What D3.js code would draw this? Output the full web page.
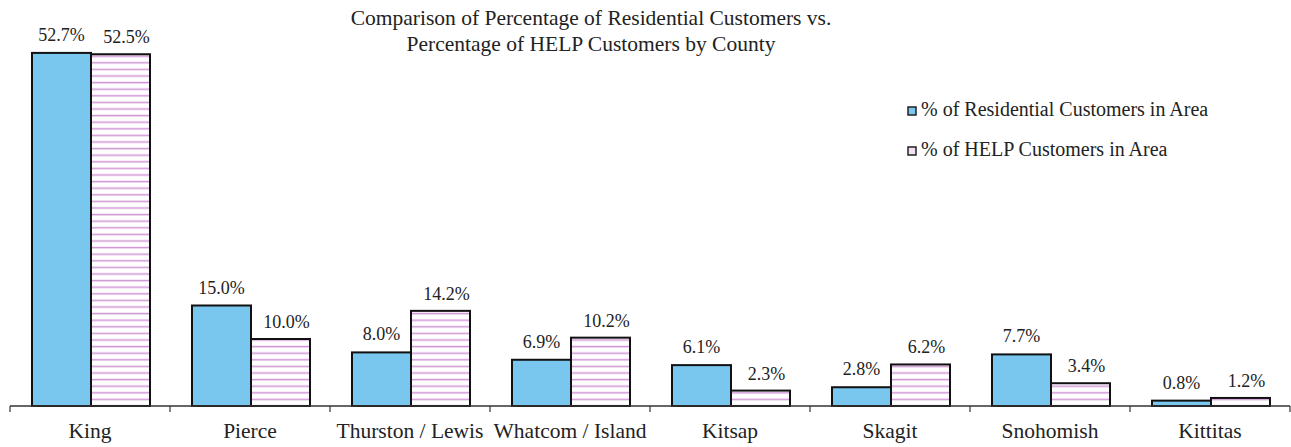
<!DOCTYPE html>
<html><head><meta charset="utf-8">
<script src="https://cdn.jsdelivr.net/npm/d3@7"></script>
<style>body{margin:0;background:#fff}svg{display:block}text{font-family:"Liberation Serif","Times New Roman",serif;fill:#222}</style>
</head><body><svg id="c" width="1291" height="447"></svg>
<script>
const categories = ["King","Pierce","Thurston / Lewis","Whatcom / Island","Kitsap","Skagit","Snohomish","Kittitas"];
const residential = [52.7,15.0,8.0,6.9,6.1,2.8,7.7,0.8];
const help = [52.5,10.0,14.2,10.2,2.3,6.2,3.4,1.2];
const seriesNames = ["% of Residential Customers in Area","% of HELP Customers in Area"];
const titleLines = ["Comparison of Percentage of Residential Customers vs.","Percentage of HELP Customers by County"];

const svg = d3.select("#c");
const defs = svg.append("defs");
const pat = defs.append("pattern").attr("id","hstripe").attr("patternUnits","userSpaceOnUse")
  .attr("width",8).attr("height",6.6);
pat.append("rect").attr("width",8).attr("height",6.6).attr("fill","#fff");
pat.append("rect").attr("y",2.6).attr("width",8).attr("height",1.6).attr("fill","#d29ad6");

const baseY = 406, left = 10, right = 1290;
const x0 = d3.scaleBand().domain(categories).range([left,right]).paddingInner(0).paddingOuter(0);
const x1 = d3.scaleBand().domain([0,1]).range([22, 22+118]);
const y = d3.scaleLinear().domain([0,60]).range([baseY, baseY-6.7*60]);

const data = categories.map((c,i)=>({c, vals:[residential[i],help[i]]}));
const fills = ["#79c7ef","url(#hstripe)"];
const labelDx = [0,6], labelDy = [12,11];

const g = svg.append("g");
data.forEach(d=>{
  d.vals.forEach((v,j)=>{
    const bx = x0(d.c)+x1(j), bw = x1.bandwidth();
    g.append("rect").attr("x",bx).attr("y",y(v)).attr("width",bw).attr("height",baseY-y(v))
      .attr("fill",fills[j]).attr("stroke","#111").attr("stroke-width",2);
    g.append("text").attr("x",bx+bw/2+labelDx[j]).attr("y",y(v)-labelDy[j]).attr("text-anchor","middle")
      .attr("font-size",18).text(v.toFixed(1)+"%");
  });
});

// axis
const ax = svg.append("g");
ax.append("line").attr("x1",left).attr("x2",right).attr("y1",baseY).attr("y2",baseY).attr("stroke","#333").attr("stroke-width",1.5);
const ticks = categories.map(c=>x0(c)).concat([right]);
ticks.forEach(t=>ax.append("line").attr("x1",t).attr("x2",t).attr("y1",baseY).attr("y2",baseY+6).attr("stroke","#333").attr("stroke-width",1.2));
categories.forEach(c=>ax.append("text").attr("x",x0(c)+x0.bandwidth()/2).attr("y",438)
  .attr("text-anchor","middle").attr("font-size",21.5).text(c));

// title
svg.append("text").attr("text-anchor","middle").attr("font-size",21.5)
  .selectAll("tspan").data(titleLines).join("tspan").attr("x",591).attr("y",(d,i)=>25+i*26).text(d=>d);

// legend
const lg = svg.append("g");
seriesNames.forEach((n,i)=>{
  const ly = 116 + i*40;
  lg.append("rect").attr("x",908).attr("y",ly-9).attr("width",8).attr("height",8)
    .attr("fill",i===0?"#79c7ef":"#f3dff3").attr("stroke","#222").attr("stroke-width",1.5);
  lg.append("text").attr("x",921).attr("y",ly).attr("font-size",20).text(n);
});
</script></body></html>
